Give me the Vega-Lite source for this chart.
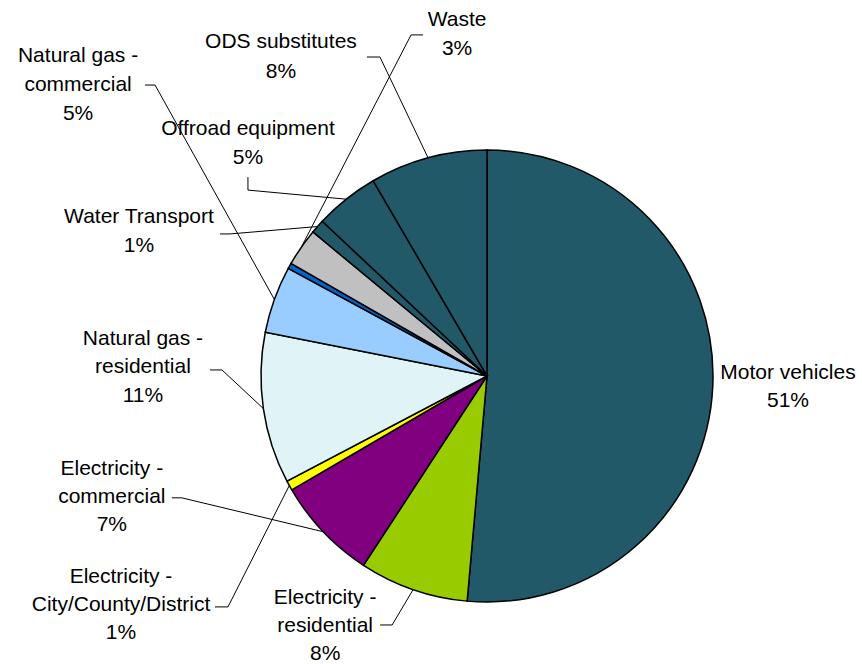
{
  "$schema": "https://vega.github.io/schema/vega-lite/v6.json",
  "width": 750,
  "height": 576,
  "autosize": {"type": "none"},
  "padding": {"left": 112, "top": 88, "right": 0, "bottom": 0},
  "background": "#ffffff",
  "config": {"view": {"stroke": null}},
  "data": {
    "values": [
      {"rank": 1, "category": "Motor vehicles", "value": 51.4, "label": "Motor vehicles\n51%"},
      {"rank": 2, "category": "Electricity - residential", "value": 7.8, "label": "Electricity -\nresidential\n8%"},
      {"rank": 3, "category": "Electricity - commercial", "value": 7.4, "label": "Electricity -\ncommercial\n7%"},
      {"rank": 4, "category": "Electricity - City/County/District", "value": 0.7, "label": "Electricity -\nCity/County/District\n1%"},
      {"rank": 5, "category": "Natural gas - residential", "value": 10.8, "label": "Natural gas -\nresidential\n11%"},
      {"rank": 6, "category": "Natural gas - commercial", "value": 4.8, "label": "Natural gas -\ncommercial\n5%"},
      {"rank": 7, "category": "Other", "value": 0.4, "label": ""},
      {"rank": 8, "category": "Waste", "value": 2.7, "label": "Waste\n3%"},
      {"rank": 9, "category": "Water Transport", "value": 1.0, "label": "Water Transport\n1%"},
      {"rank": 10, "category": "Offroad equipment", "value": 4.6, "label": "Offroad equipment\n5%"},
      {"rank": 11, "category": "ODS substitutes", "value": 8.4, "label": "ODS substitutes\n8%"}
    ]
  },
  "transform": [
    {"window": [{"op": "sum", "field": "value", "as": "cum"}], "sort": [{"field": "rank", "order": "ascending"}], "frame": [null, 0]},
    {"joinaggregate": [{"op": "sum", "field": "value", "as": "total"}]},
    {"calculate": "2 * PI * (datum.cum - datum.value / 2) / datum.total", "as": "mid"},
    {"calculate": "226 * sin(datum.mid)", "as": "ex"},
    {"calculate": "226 * cos(datum.mid)", "as": "ey"}
  ],
  "layer": [
    {
      "mark": {"type": "arc", "outerRadius": 226, "stroke": "#000000", "strokeWidth": 1.5},
      "encoding": {
        "theta": {"field": "value", "type": "quantitative", "stack": true},
        "order": {"field": "rank", "type": "quantitative"},
        "color": {
          "field": "category",
          "type": "nominal",
          "legend": null,
          "scale": {
            "domain": ["Motor vehicles", "Electricity - residential", "Electricity - commercial", "Electricity - City/County/District", "Natural gas - residential", "Natural gas - commercial", "Other", "Waste", "Water Transport", "Offroad equipment", "ODS substitutes"],
            "range": ["#215968", "#99CC00", "#800080", "#FFFF00", "#E0F4F8", "#99CCFF", "#0066CC", "#C0C0C0", "#215968", "#215968", "#215968"]
          }
        }
      }
    },
    {
      "encoding": {
        "x": {"field": "ex", "type": "quantitative", "scale": {"domain": [-375, 375], "nice": false, "zero": false}, "axis": null},
        "y": {"field": "ey", "type": "quantitative", "scale": {"domain": [-288, 288], "nice": false, "zero": false}, "axis": null},
        "text": {"field": "label", "type": "nominal"}
      },
      "layer": [
        {"transform": [{"filter": "datum.category === 'Motor vehicles'"}], "mark": {"type": "text", "dx": 75.2, "dy": -6.9, "align": "center", "baseline": "alphabetic", "lineBreak": "\n", "font": "Liberation Sans", "fontSize": 21, "lineHeight": 28, "color": "#000000"}},
        {"transform": [{"filter": "datum.category === 'Electricity - residential'"}], "mark": {"type": "text", "dx": -88, "dy": 14.4, "align": "center", "baseline": "alphabetic", "lineBreak": "\n", "font": "Liberation Sans", "fontSize": 21, "lineHeight": 28, "color": "#000000"}},
        {"transform": [{"filter": "datum.category === 'Electricity - commercial'"}], "mark": {"type": "text", "dx": -211.4, "dy": -56.9, "align": "center", "baseline": "alphabetic", "lineBreak": "\n", "font": "Liberation Sans", "fontSize": 21, "lineHeight": 28, "color": "#000000"}},
        {"transform": [{"filter": "datum.category === 'Electricity - City/County/District'"}], "mark": {"type": "text", "dx": -168.3, "dy": 97.4, "align": "center", "baseline": "alphabetic", "lineBreak": "\n", "font": "Liberation Sans", "fontSize": 21, "lineHeight": 28, "color": "#000000"}},
        {"transform": [{"filter": "datum.category === 'Natural gas - residential'"}], "mark": {"type": "text", "dx": -120.4, "dy": -63.6, "align": "center", "baseline": "alphabetic", "lineBreak": "\n", "font": "Liberation Sans", "fontSize": 21, "lineHeight": 28.5, "color": "#000000"}},
        {"transform": [{"filter": "datum.category === 'Natural gas - commercial'"}], "mark": {"type": "text", "dx": -196.3, "dy": -237.4, "align": "center", "baseline": "alphabetic", "lineBreak": "\n", "font": "Liberation Sans", "fontSize": 21, "lineHeight": 29, "color": "#000000"}},
        {"transform": [{"filter": "datum.category === 'Waste'"}], "mark": {"type": "text", "dx": 155.8, "dy": -221.3, "align": "center", "baseline": "alphabetic", "lineBreak": "\n", "font": "Liberation Sans", "fontSize": 21, "lineHeight": 29, "color": "#000000"}},
        {"transform": [{"filter": "datum.category === 'Water Transport'"}], "mark": {"type": "text", "dx": -178.5, "dy": -3.6, "align": "center", "baseline": "alphabetic", "lineBreak": "\n", "font": "Liberation Sans", "fontSize": 21, "lineHeight": 29, "color": "#000000"}},
        {"transform": [{"filter": "datum.category === 'Offroad equipment'"}], "mark": {"type": "text", "dx": -98.3, "dy": -64.1, "align": "center", "baseline": "alphabetic", "lineBreak": "\n", "font": "Liberation Sans", "fontSize": 21, "lineHeight": 28.5, "color": "#000000"}},
        {"transform": [{"filter": "datum.category === 'ODS substitutes'"}], "mark": {"type": "text", "dx": -147.1, "dy": -109.8, "align": "center", "baseline": "alphabetic", "lineBreak": "\n", "font": "Liberation Sans", "fontSize": 21, "lineHeight": 30, "color": "#000000"}}
      ]
    },
    {
      "encoding": {
        "x": {"field": "ex", "type": "quantitative", "scale": {"domain": [-375, 375], "nice": false, "zero": false}, "axis": null},
        "y": {"field": "ey", "type": "quantitative", "scale": {"domain": [-288, 288], "nice": false, "zero": false}, "axis": null},
        "x2": {"field": "ex"},
        "y2": {"field": "ey"}
      },
      "layer": [
        {"transform": [{"filter": "datum.category === 'Electricity - residential'"}], "mark": {"type": "rule", "color": "#000000", "strokeWidth": 1, "x2Offset": -21, "y2Offset": 35.4}},
        {"transform": [{"filter": "datum.category === 'Electricity - residential'"}], "mark": {"type": "rule", "color": "#000000", "strokeWidth": 1, "xOffset": -21, "yOffset": 35.4, "x2Offset": -33, "y2Offset": 35.4}},
        {"transform": [{"filter": "datum.category === 'Electricity - commercial'"}], "mark": {"type": "rule", "color": "#000000", "strokeWidth": 1, "x2Offset": -141.4, "y2Offset": -33.9}},
        {"transform": [{"filter": "datum.category === 'Electricity - commercial'"}], "mark": {"type": "rule", "color": "#000000", "strokeWidth": 1, "xOffset": -141.4, "yOffset": -33.9, "x2Offset": -151.4, "y2Offset": -33.9}},
        {"transform": [{"filter": "datum.category === 'Electricity - City/County/District'"}], "mark": {"type": "rule", "color": "#000000", "strokeWidth": 1, "x2Offset": -61.3, "y2Offset": 121.4}},
        {"transform": [{"filter": "datum.category === 'Electricity - City/County/District'"}], "mark": {"type": "rule", "color": "#000000", "strokeWidth": 1, "xOffset": -61.3, "yOffset": 121.4, "x2Offset": -74.3, "y2Offset": 121.4}},
        {"transform": [{"filter": "datum.category === 'Natural gas - residential'"}], "mark": {"type": "rule", "color": "#000000", "strokeWidth": 1, "x2Offset": -41.4, "y2Offset": -38.6}},
        {"transform": [{"filter": "datum.category === 'Natural gas - residential'"}], "mark": {"type": "rule", "color": "#000000", "strokeWidth": 1, "xOffset": -41.4, "yOffset": -38.6, "x2Offset": -53.4, "y2Offset": -38.6}},
        {"transform": [{"filter": "datum.category === 'Natural gas - commercial'"}], "mark": {"type": "rule", "color": "#000000", "strokeWidth": 1, "x2Offset": -119.3, "y2Offset": -214.4}},
        {"transform": [{"filter": "datum.category === 'Natural gas - commercial'"}], "mark": {"type": "rule", "color": "#000000", "strokeWidth": 1, "xOffset": -119.3, "yOffset": -214.4, "x2Offset": -129.3, "y2Offset": -214.4}},
        {"transform": [{"filter": "datum.category === 'Waste'"}], "mark": {"type": "rule", "color": "#000000", "strokeWidth": 1, "x2Offset": 109.8, "y2Offset": -212.3}},
        {"transform": [{"filter": "datum.category === 'Waste'"}], "mark": {"type": "rule", "color": "#000000", "strokeWidth": 1, "xOffset": 109.8, "yOffset": -212.3, "x2Offset": 121.8, "y2Offset": -212.3}},
        {"transform": [{"filter": "datum.category === 'Water Transport'"}], "mark": {"type": "rule", "color": "#000000", "strokeWidth": 1, "x2Offset": -87.5, "y2Offset": 7.4}},
        {"transform": [{"filter": "datum.category === 'Water Transport'"}], "mark": {"type": "rule", "color": "#000000", "strokeWidth": 1, "xOffset": -87.5, "yOffset": 7.4, "x2Offset": -97.5, "y2Offset": 7.4}},
        {"transform": [{"filter": "datum.category === 'Offroad equipment'"}], "mark": {"type": "rule", "color": "#000000", "strokeWidth": 1, "x2Offset": -98.3, "y2Offset": -9.1}},
        {"transform": [{"filter": "datum.category === 'Offroad equipment'"}], "mark": {"type": "rule", "color": "#000000", "strokeWidth": 1, "xOffset": -98.3, "yOffset": -9.1, "x2Offset": -98.3, "y2Offset": -22.1}},
        {"transform": [{"filter": "datum.category === 'ODS substitutes'"}], "mark": {"type": "rule", "color": "#000000", "strokeWidth": 1, "x2Offset": -48.1, "y2Offset": -100.8}},
        {"transform": [{"filter": "datum.category === 'ODS substitutes'"}], "mark": {"type": "rule", "color": "#000000", "strokeWidth": 1, "xOffset": -48.1, "yOffset": -100.8, "x2Offset": -61.1, "y2Offset": -100.8}}
      ]
    }
  ]
}
